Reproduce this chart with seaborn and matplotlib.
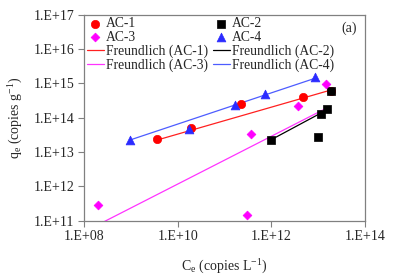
import numpy as np
import pandas as pd
import matplotlib
matplotlib.use("Agg")
import matplotlib.pyplot as plt
import seaborn as sns
from matplotlib.ticker import FixedLocator, FuncFormatter

sns.set_theme(style="white")
plt.rcParams['font.family'] = ['Liberation Serif', 'DejaVu Serif']
plt.rcParams['mathtext.fontset'] = 'custom'
plt.rcParams['mathtext.rm'] = 'Liberation Serif'
plt.rcParams['mathtext.it'] = 'Liberation Serif:italic'

# data (copies L-1, copies g-1)
ac1_x = [3.67e9, 1.90e10, 2.22e11, 4.82e12, 1.88e13]
ac1_y = [2.39e13, 4.91e13, 2.45e14, 3.95e14, 5.98e14]
ac2_x = [9.7e11, 9.93e12, 1.15e13, 1.52e13, 1.88e13]
ac2_y = [2.24e13, 2.79e13, 1.31e14, 1.75e14, 5.98e14]
ac3_x = [1.99e8, 2.98e11, 3.73e11, 3.77e12, 1.47e13]
ac3_y = [2.86e11, 1.46e11, 3.30e13, 2.19e14, 9.40e14]
ac4_x = [9.6e8, 1.77e10, 1.67e11, 7.33e11, 8.77e12]
ac4_y = [2.24e13, 4.69e13, 2.34e14, 4.80e14, 1.53e15]

# Freundlich fit lines (end points)
fr1_x = [3.67e9, 1.88e13]
fr1_y = [2.24e13, 6.41e14]
fr2_x = [9.7e11, 1.51e13]
fr2_y = [2.24e13, 1.67e14]
fr3_x = [1.99e8, 1.47e13]
fr3_y = [7.6e10, 1.87e14]
fr4_x = [9.6e8, 8.77e12]
fr4_y = [2.24e13, 1.42e15]

series = [
    ("AC-1", ac1_x, ac1_y, "o", "#ff0000", 36),
    ("AC-2", ac2_x, ac2_y, "s", "#000000", 34),
    ("AC-3", ac3_x, ac3_y, "D", "#ff00ff", 20),
    ("AC-4", ac4_x, ac4_y, "^", "#2b2bff", 40),
]
fits = [
    ("Freundlich (AC-1)", fr1_x, fr1_y, "#ff2020"),
    ("Freundlich (AC-2)", fr2_x, fr2_y, "#000000"),
    ("Freundlich (AC-3)", fr3_x, fr3_y, "#ff33ff"),
    ("Freundlich (AC-4)", fr4_x, fr4_y, "#4d5cff"),
]

fig = plt.figure(figsize=(3.93, 2.79), dpi=100)
ax = fig.add_axes([0.2137, 0.209, 0.715, 0.7383])

for name, fx, fy, col in fits:
    sns.lineplot(x=fx, y=fy, ax=ax, color=col, linewidth=0.9, label=name)
for name, sx, sy, mk, col, sz in series:
    sns.scatterplot(x=sx, y=sy, ax=ax, marker=mk, color=col, s=sz,
                    edgecolor=col, linewidth=0.5, label=name, zorder=3)

ax.set_xscale("log")
ax.set_yscale("log")
ax.set_xlim(1e8, 1e14)
ax.set_ylim(1e11, 1e17)

fmt = FuncFormatter(lambda v, p: "1.E+%02d" % int(round(np.log10(v))))
ax.xaxis.set_major_locator(FixedLocator([1e8, 1e10, 1e12, 1e14]))
ax.yaxis.set_major_locator(FixedLocator([10.0 ** k for k in range(11, 18)]))
ax.xaxis.set_minor_locator(FixedLocator([]))
ax.yaxis.set_minor_locator(FixedLocator([]))
ax.xaxis.set_major_formatter(fmt)
ax.yaxis.set_major_formatter(fmt)
ax.tick_params(axis="both", which="major", direction="out", length=4, width=0.8,
               color="#808080", labelsize=10, pad=3, bottom=True, left=True)
for sp in ax.spines.values():
    sp.set_color("#808080")
    sp.set_linewidth(0.9)
ax.grid(False)

ax.set_xlabel(r"C$_\mathregular{e}$ (copies L$^\mathregular{-1}$)", fontsize=10, labelpad=10)
ax.set_ylabel(r"q$_\mathregular{e}$ (copies g$^\mathregular{-1}$)", fontsize=10, labelpad=6)

ax.text(0.945, 0.965, "(a)", transform=ax.transAxes, fontsize=10, ha="center", va="top")

h, l = ax.get_legend_handles_labels()
lookup = dict(zip(l, h))
order = ["AC-1", "AC-3", "Freundlich (AC-1)", "Freundlich (AC-3)",
         "AC-2", "AC-4", "Freundlich (AC-2)", "Freundlich (AC-4)"]
ax.legend([lookup[k] for k in order], order, ncol=2, frameon=False,
          loc="upper left", bbox_to_anchor=(-0.015, 1.02), fontsize=9.8,
          handlelength=1.3, handletextpad=0.15, labelspacing=0.04,
          columnspacing=0.3, borderaxespad=0.1, markerscale=1.0)

fig.savefig("out.png", dpi=100)
